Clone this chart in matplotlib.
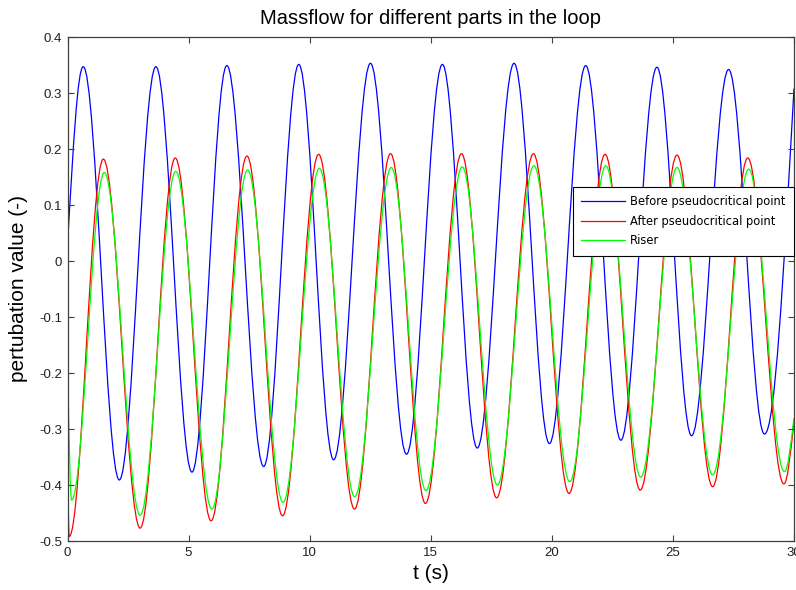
import matplotlib
matplotlib.use("Agg")
import matplotlib.pyplot as plt
from matplotlib.path import Path
from matplotlib.patches import PathPatch
from matplotlib.lines import Line2D

# ---- data: start point, extrema in time order, end point ----
blue_t = [0.0, 0.65, 2.14, 3.65, 5.14, 6.58, 8.10, 9.55, 10.99, 12.51, 14.00,
          15.48, 16.92, 18.44, 19.90, 21.40, 22.85, 24.34, 25.77, 27.30, 28.78, 30.0]
blue_v = [0.030, 0.347, -0.391, 0.347, -0.377, 0.349, -0.367, 0.351, -0.355, 0.353, -0.345,
          0.351, -0.334, 0.353, -0.326, 0.349, -0.320, 0.346, -0.312, 0.342, -0.309, 0.308]

red_t = [0.0, 0.07, 1.48, 3.00, 4.45, 5.93, 7.41, 8.88, 10.37, 11.85, 13.34, 14.78,
         16.27, 17.72, 19.24, 20.71, 22.20, 23.65, 25.17, 26.64, 28.09, 29.58, 30.0]
red_v = [-0.330, -0.492, 0.182, -0.477, 0.184, -0.464, 0.1875, -0.455, 0.1905, -0.443, 0.1916, -0.433,
         0.1916, -0.423, 0.1916, -0.415, 0.1905, -0.409, 0.189, -0.403, 0.184, -0.398, -0.285]

green_t = [0.0, 0.17, 1.52, 3.00, 4.47, 5.96, 7.44, 8.90, 10.40, 11.86, 13.37, 14.80,
           16.30, 17.75, 19.26, 20.74, 22.23, 23.67, 25.17, 26.64, 28.13, 29.60, 30.0]
green_v = [-0.170, -0.427, 0.158, -0.454, 0.160, -0.443, 0.1625, -0.431, 0.1655, -0.421, 0.167, -0.410,
           0.168, -0.400, 0.170, -0.394, 0.170, -0.386, 0.167, -0.382, 0.164, -0.376, -0.280]

series_labels = ["Before pseudocritical point", "After pseudocritical point", "Riser"]
series_colors = ["#0000ff", "#ff0000", "#00ff00"]

xticks = [0, 5, 10, 15, 20, 25, 30]
xtick_labels = ["0", "5", "10", "15", "20", "25", "30"]
yticks = [-0.5, -0.4, -0.3, -0.2, -0.1, 0.0, 0.1, 0.2, 0.3, 0.4]
ytick_labels = ["-0.5", "-0.4", "-0.3", "-0.2", "-0.1", "0", "0.1", "0.2", "0.3", "0.4"]

title = "Massflow for different parts in the loop"
xlabel = "t (s)"
ylabel = "pertubation value (-)"


def smooth_path(ts, vs, a=0.36):
    """Smooth Bezier path through the points (flat tangents at extrema)."""
    verts = [(ts[0], vs[0])]
    codes = [Path.MOVETO]
    n = len(ts)
    for i in range(n - 1):
        t0, v0, t1, v1 = ts[i], vs[i], ts[i + 1], vs[i + 1]
        h = t1 - t0
        chord = (v1 - v0) / h
        m0 = 1.5 * chord if i == 0 else 0.0
        m1 = 1.5 * chord if i == n - 2 else 0.0
        verts += [(t0 + a * h, v0 + m0 * a * h), (t1 - a * h, v1 - m1 * a * h), (t1, v1)]
        codes += [Path.CURVE4] * 3
    return Path(verts, codes)


plt.rcParams["font.family"] = ["Liberation Sans", "DejaVu Sans"]

fig = plt.figure(figsize=(7.96, 5.90), dpi=100)
ax = fig.add_axes([67.5 / 796, 1 - 541 / 590, (794 - 67.5) / 796, (541 - 37) / 590])

for ts, vs, c in zip([blue_t, red_t, green_t], [blue_v, red_v, green_v], series_colors):
    ax.add_patch(PathPatch(smooth_path(ts, vs), fill=False, edgecolor=c, lw=0.9))

ax.set_xlim(0, 30)
ax.set_ylim(-0.5, 0.4)
ax.set_xticks(xticks)
ax.set_xticklabels(xtick_labels)
ax.set_yticks(yticks)
ax.set_yticklabels(ytick_labels)

spine_col = "#404040"
for s in ax.spines.values():
    s.set_color(spine_col)
    s.set_linewidth(0.9)
ax.tick_params(direction="in", top=True, right=True, length=4, width=0.8,
               color=spine_col, labelsize=9.5, pad=4, labelcolor="#202020")

ax.set_title(title, fontsize=14.5, pad=9)
ax.set_xlabel(xlabel, fontsize=15, labelpad=4)
ax.set_ylabel(ylabel, fontsize=15, labelpad=8)

handles = [Line2D([], [], color=c, lw=0.9) for c in series_colors]
leg = ax.legend(handles, series_labels, loc="upper left",
                bbox_to_anchor=(573 / 796, 1 - 187 / 590), bbox_transform=fig.transFigure,
                borderaxespad=0, prop={"family": "DejaVu Sans", "size": 8.3},
                handlelength=3.8, handletextpad=0.45, borderpad=0.7, labelspacing=0.58,
                fancybox=False, framealpha=1, edgecolor="black")
leg.get_frame().set_linewidth(0.8)

fig.savefig("out.png", dpi=100)
